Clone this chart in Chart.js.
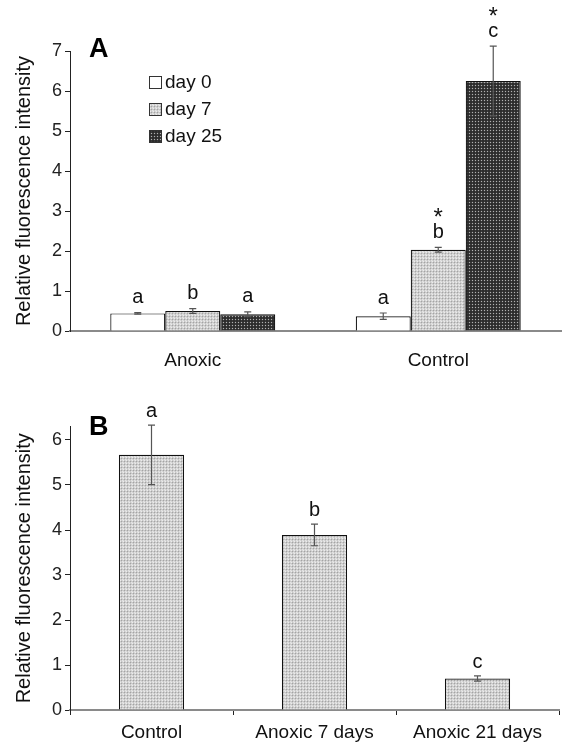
<!DOCTYPE html>
<html>
<head>
<meta charset="utf-8">
<script src="https://cdn.jsdelivr.net/npm/chart.js@4.4.1/dist/chart.umd.min.js"></script>
<style>
  html, body { margin: 0; padding: 0; background: #fff; }
  .panel { position: absolute; left: 0; width: 564px; }
  #boxA { top: 0; height: 370px; }
  #boxB { top: 370px; height: 374px; }
</style>
</head>
<body>
<div class="panel" id="boxA"><canvas id="chartA"></canvas></div>
<div class="panel" id="boxB"><canvas id="chartB"></canvas></div>
<script>
// --- panel A data ---
const groupsA = ["Anoxic", "Control"];
const seriesNamesA = ["day 0", "day 7", "day 25"];
const day0 = [0.44, 0.37];
const day7 = [0.50, 2.03];
const day25 = [0.42, 6.25];
const day0Err = [0.02, 0.08];
const day7Err = [0.06, 0.06];
const day25Err = [0.06, 0.87];
const day0Letters = ["a", "a"];
const day7Letters = ["b", "b"];
const day25Letters = ["a", "c"];
const day0Stars = [false, false];
const day7Stars = [false, true];
const day25Stars = [false, true];
const ticksA = [0, 1, 2, 3, 4, 5, 6, 7];

// --- panel B data ---
const groupsB = ["Control", "Anoxic 7 days", "Anoxic 21 days"];
const valuesB = [5.67, 3.89, 0.70];
const errB = [0.66, 0.24, 0.06];
const lettersB = ["a", "b", "c"];
const ticksB = [0, 1, 2, 3, 4, 5, 6];

const FONT = "'Liberation Sans', Arial, sans-serif";
const yTitle = "Relative fluorescence intensity";

// small tiled patterns like the printed dot fills
function makePattern(rows) {
  const c = document.createElement("canvas");
  c.width = rows[0].length;
  c.height = rows.length;
  const ctx = c.getContext("2d");
  rows.forEach((row, y) => row.forEach((col, x) => {
    ctx.fillStyle = col;
    ctx.fillRect(x, y, 1, 1);
  }));
  return ctx.createPattern(c, "repeat");
}
const lightFill = makePattern([
  ["#ececec", "#c8c8c8", "#d8d8d8"],
  ["#c8c8c8", "#a4a4a4", "#c8c8c8"],
  ["#d8d8d8", "#c8c8c8", "#e4e4e4"]
]);
const darkFill = makePattern([
  ["#2c2c2c", "#3a3a3a", "#2c2c2c"],
  ["#3a3a3a", "#b0b0b0", "#3a3a3a"],
  ["#2c2c2c", "#3a3a3a", "#2c2c2c"]
]);

// error bars, significance letters, stars, panel letter, legend
const annotate = {
  id: "annotate",
  afterDatasetsDraw(chart, args, opts) {
    const ctx = chart.ctx;
    const y = chart.scales.y;
    ctx.save();
    chart.data.datasets.forEach((ds, di) => {
      const meta = chart.getDatasetMeta(di);
      meta.data.forEach((bar, i) => {
        const v = ds.data[i];
        const e = ds.err[i];
        const yt = y.getPixelForValue(v + e);
        const yb = y.getPixelForValue(v - e);
        ctx.strokeStyle = "#555";
        ctx.lineWidth = 1.2;
        ctx.beginPath();
        ctx.moveTo(bar.x, yt); ctx.lineTo(bar.x, yb);
        ctx.moveTo(bar.x - 3.5, yt); ctx.lineTo(bar.x + 3.5, yt);
        ctx.moveTo(bar.x - 3.5, yb); ctx.lineTo(bar.x + 3.5, yb);
        ctx.stroke();
        ctx.fillStyle = "#111";
        ctx.font = "20px " + FONT;
        ctx.textAlign = "center";
        ctx.textBaseline = "alphabetic";
        const base = yt - opts.gap;
        ctx.fillText(ds.letters[i], bar.x, base);
        if (ds.stars && ds.stars[i]) {
          ctx.font = "24px " + FONT;
          ctx.fillText("*", bar.x, base - 13);
        }
      });
    });
    // panel letter
    ctx.font = "bold 27px " + FONT;
    ctx.textAlign = "left";
    ctx.fillStyle = "#000";
    ctx.fillText(opts.panel, 89, opts.panelY);
    // legend
    if (opts.legend) {
      chart.data.datasets.forEach((ds, di) => {
        const cy = opts.legend.y + di * 27;
        ctx.fillStyle = ds.backgroundColor;
        ctx.fillRect(opts.legend.x, cy - 6, 12, 12);
        ctx.strokeStyle = "#333";
        ctx.lineWidth = 1;
        ctx.strokeRect(opts.legend.x + 0.5, cy - 5.5, 12, 12);
        ctx.fillStyle = "#111";
        ctx.font = "19px " + FONT;
        ctx.textBaseline = "middle";
        ctx.fillText(ds.label, opts.legend.x + 16, cy + 1);
      });
    }
    ctx.restore();
  }
};

function yScale(max, list) {
  return {
    min: 0,
    max: max,
    afterFit: (s) => { s.width = 70; },
    afterBuildTicks: (s) => { s.ticks = list.map(v => ({ value: v })); },
    border: { color: "#222", width: 1 },
    grid: { drawOnChartArea: false, color: "#222", tickLength: 5 },
    ticks: { font: { size: 18, family: FONT }, color: "#222", padding: 3 },
    title: { display: true, text: yTitle, color: "#111", font: { size: 20, family: FONT }, padding: { top: 12, bottom: 0 } }
  };
}

// panel A
new Chart(document.getElementById("chartA"), {
  type: "bar",
  data: {
    labels: groupsA,
    datasets: [
      { label: seriesNamesA[0], data: day0, err: day0Err, letters: day0Letters, stars: day0Stars, backgroundColor: "#ffffff" },
      { label: seriesNamesA[1], data: day7, err: day7Err, letters: day7Letters, stars: day7Stars, backgroundColor: lightFill },
      { label: seriesNamesA[2], data: day25, err: day25Err, letters: day25Letters, stars: day25Stars, backgroundColor: darkFill }
    ].map(d => Object.assign(d, { borderColor: "#111", borderWidth: 1.2, categoryPercentage: 0.672, barPercentage: 1 }))
  },
  options: {
    responsive: true,
    maintainAspectRatio: false,
    animation: false,
    layout: { padding: { top: 51, right: 3, left: 0, bottom: 0 } },
    plugins: {
      legend: { display: false },
      tooltip: { enabled: false },
      annotate: { gap: 9.5, panel: "A", panelY: 57, legend: { x: 149, y: 82 } }
    },
    scales: {
      x: {
        afterFit: (s) => { s.height = 39; },
        border: { color: "#8a8a8a", width: 2 },
        grid: { display: false },
        ticks: { font: { size: 19, family: FONT }, color: "#111", padding: 10 }
      },
      y: yScale(7, ticksA)
    }
  },
  plugins: [annotate]
});

// panel B
new Chart(document.getElementById("chartB"), {
  type: "bar",
  data: {
    labels: groupsB,
    datasets: [
      { label: "B", data: valuesB, err: errB, letters: lettersB, backgroundColor: lightFill,
        borderColor: "#111", borderWidth: 1.2, categoryPercentage: 1, barPercentage: 0.4 }
    ]
  },
  options: {
    responsive: true,
    maintainAspectRatio: false,
    animation: false,
    layout: { padding: { top: 56.5, right: 5, left: 0, bottom: 0 } },
    plugins: {
      legend: { display: false },
      tooltip: { enabled: false },
      annotate: { gap: 8, panel: "B", panelY: 65 }
    },
    scales: {
      x: {
        afterFit: (s) => { s.height = 34; },
        border: { color: "#8a8a8a", width: 2 },
        grid: { drawOnChartArea: false, color: "#222", tickLength: 5 },
        ticks: { font: { size: 19, family: FONT }, color: "#111", padding: 6 }
      },
      y: yScale(6.3, ticksB)
    }
  },
  plugins: [annotate]
});
</script>
</body>
</html>
